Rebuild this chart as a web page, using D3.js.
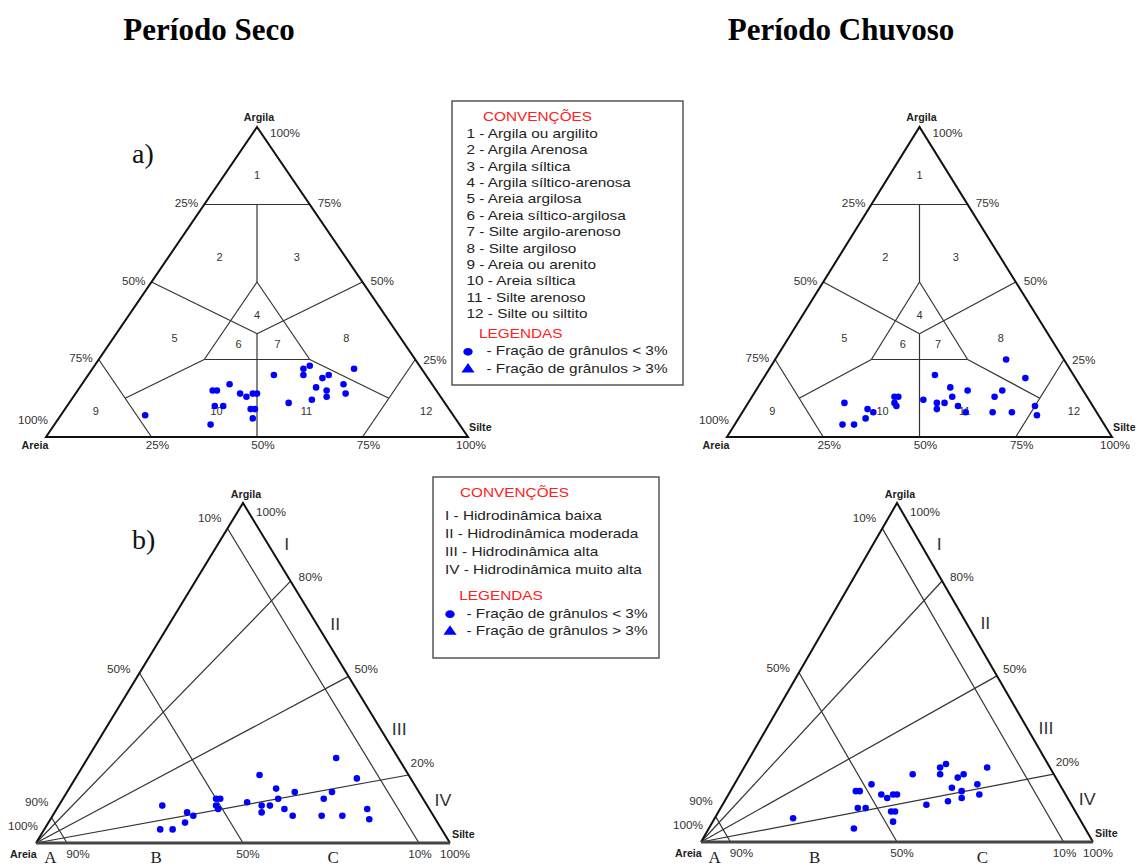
<!DOCTYPE html>
<html>
<head>
<meta charset="utf-8">
<script src="https://cdn.jsdelivr.net/npm/d3@7"></script>
<style>
  body { margin: 0; background: #fff; }
  svg text { font-family: "Liberation Sans", Arial, sans-serif; }
</style>
</head>
<body>
<div id="chart"></div>
<script>
// amostras (argila %, silte %) - areia = resto
const secoArgila = [7, 15, 15, 17, 14, 13, 14, 14, 10, 10, 9, 9, 6, 4, 20, 22, 20, 23, 19, 20, 16, 15, 13, 12, 11, 17, 14, 22];
const secoSilte  = [20, 32, 33, 35, 39, 41, 42, 43, 35, 37, 44, 45, 46, 37, 44, 50, 51, 51, 56, 57, 56, 59, 60, 57, 52, 62, 64, 62];
const chuvosoArgila = [25, 19, 20, 16, 13, 15, 12, 11, 11, 9, 10, 8, 13, 15, 8, 8, 10, 7, 11, 4, 4, 6, 9, 8, 13, 13, 11, 10];
const chuvosoSilte  = [60, 68, 44, 50, 52, 55, 45, 49, 51, 50, 55, 58, 63, 64, 65, 70, 75, 77, 25, 28, 31, 33, 32, 34, 37, 38, 38, 39];

const titulos = ['Período Seco', 'Período Chuvoso'];

const shepardClasses = ['Argila ou argilito', 'Argila Arenosa', 'Argila síltica', 'Argila síltico-arenosa',
  'Areia argilosa', 'Areia síltico-argilosa', 'Silte argilo-arenoso', 'Silte argiloso',
  'Areia ou arenito', 'Areia síltica', 'Silte arenoso', 'Silte ou siltito'];
const pejrupClasses = ['I - Hidrodinâmica baixa', 'II - Hidrodinâmica moderada', 'III - Hidrodinâmica alta', 'IV - Hidrodinâmica muito alta'];
const legendas = ['- Fração de grânulos < 3%', '- Fração de grânulos > 3%'];

const shepardSandTicks = ['25%', '50%', '75%', '100%'];
const shepardClayTicks = ['100%', '75%', '50%', '25%'];
const shepardSiltTicks = ['25%', '50%', '75%', '100%'];

// Pejrup: linhas de areia e razões argila/(argila+silte)
const pejrupSand = [7.5, 50, 92.5];
const pejrupSandLeftTicks = ['10%', '50%', '90%'];
const pejrupSandBaseTicks = ['10%', '50%', '90%'];
const pejrupRatio = [77, 49, 20];
const pejrupRatioTicks = ['80%', '50%', '20%'];
const pejrupRoman = ['I', 'II', 'III', 'IV'];
const pejrupGroups = ['A', 'B', 'C'];

const width = 1137, height = 868;
const serif = '"Liberation Serif", "Times New Roman", serif';

const svg = d3.select('#chart').append('svg')
  .attr('width', width)
  .attr('height', height)
  .style('display', 'block');

svg.append('rect').attr('width', width).attr('height', height).attr('fill', '#fff');

// text helper, the source figure is stretched sideways
const addText = (parent, x, y, txt, o = {}) => parent.append('text')
  .attr('transform', `translate(${x},${y}) scale(${o.sx || 1},1)`)
  .attr('text-anchor', o.anchor || 'start')
  .attr('dominant-baseline', o.baseline || 'middle')
  .style('font-size', (o.size || 10.5) + 'px')
  .style('font-weight', o.bold ? 'bold' : 'normal')
  .style('font-family', o.font || null)
  .attr('fill', o.fill || '#333')
  .text(txt);

const panels = [
  { kind: 'shepard', left: 46, right: 468, base: 437, apex: 127, arg: secoArgila, sil: secoSilte, tag: 'a)' },
  { kind: 'shepard', left: 727, right: 1112, base: 437, apex: 127, arg: chuvosoArgila, sil: chuvosoSilte },
  { kind: 'pejrup', left: 36, right: 450, base: 843, apex: 503, arg: chuvosoArgila, sil: chuvosoSilte, tag: 'b)' },
  { kind: 'pejrup', left: 701, right: 1093, base: 842, apex: 503, arg: secoArgila, sil: secoSilte }
];

const line = d3.line();
const symCircle = d3.symbol().type(d3.symbolCircle).size(34);

// titles
titulos.forEach((t, i) => {
  addText(svg, i === 0 ? 209 : 841, 40, t, {
    anchor: 'middle', baseline: 'auto', size: 31, bold: true, font: serif, fill: '#000'
  });
});

panels.forEach(p => {
  const xScale = d3.scaleLinear().domain([0, 100]).range([p.left, p.right]);
  const yScale = d3.scaleLinear().domain([0, 100]).range([p.base, p.apex]);
  const pt = (clay, silt) => [xScale(silt + clay / 2), yScale(clay)];
  const A = pt(0, 0), S = pt(0, 100), C = pt(100, 0);

  const g = svg.append('g');
  const seg = (a, b, w, col) => g.append('path')
    .attr('d', line([pt(...a), pt(...b)]))
    .attr('fill', 'none')
    .attr('stroke', col || '#333')
    .attr('stroke-width', w || 1.2);

  const tick = (x, y, txt, anchor) => addText(g, x, y, txt, { anchor: anchor || 'middle', sx: 1.12 });
  const corner = (x, y, txt, anchor) => addText(g, x, y, txt, { anchor, bold: true, fill: '#222', sx: 1.02 });

  if (p.kind === 'shepard') {
    seg([75, 0], [75, 25]);
    seg([75, 12.5], [50, 25]);
    seg([50, 25], [25, 25]);
    seg([25, 25], [25, 50]);
    seg([25, 50], [50, 25]);
    seg([50, 0], [100 / 3, 100 / 3]);
    seg([50, 50], [100 / 3, 100 / 3]);
    seg([100 / 3, 100 / 3], [0, 50]);
    seg([25, 25], [12.5, 12.5]);
    seg([25, 50], [12.5, 75]);
    seg([25, 0], [0, 25]);
    seg([25, 75], [0, 75]);

    g.append('path')
      .attr('d', line([A, S, C]) + 'Z')
      .attr('fill', 'none')
      .attr('stroke', '#111')
      .attr('stroke-width', 2);

    // zone numbers
    const zoneAnchors = [[84, 8], [57.5, 12.4], [57.5, 30.7], [39, 30.5], [31.5, 14.7], [29.7, 30.8],
      [29.7, 40], [31.5, 55.4], [7.8, 7.9], [7.8, 36.5], [7.8, 57.8], [7.8, 86.2]];
    zoneAnchors.forEach((z, i) => {
      const q = pt(z[0], z[1]);
      addText(g, q[0], q[1], String(i + 1), { anchor: 'middle', size: 10, sx: 1.1 });
    });

    // ticks
    shepardSandTicks.forEach((t, i) => {
      if (i === 3) { tick(A[0] - 13, A[1] - 16, t); return; }
      const q = pt(75 - 25 * i, 0);
      tick(q[0] - 6, q[1], t, 'end');
    });
    shepardClayTicks.forEach((t, i) => {
      if (i === 0) { tick(C[0] + 28, C[1] + 7, t); return; }
      const q = pt(100 - 25 * i, 25 * i);
      tick(q[0] + 8, q[1] + (i === 3 ? 2 : 0), t, 'start');
    });
    shepardSiltTicks.forEach((t, i) => {
      const q = pt(0, 25 * (i + 1));
      tick(q[0] + (i === 3 ? 3 : 6), q[1] + 9, t);
    });
    corner(C[0] + 2, C[1] - 9, 'Argila', 'middle');
    corner(A[0] - 11, A[1] + 9, 'Areia', 'middle');
    corner(S[0] + 1, S[1] - 9, 'Silte', 'start');
  } else {
    pejrupSand.forEach(v => seg([100 - v, 0], [0, 100 - v]));
    pejrupRatio.forEach(r => seg([0, 0], [r, 100 - r]));

    g.append('path')
      .attr('d', line([S, C, A]))
      .attr('fill', 'none')
      .attr('stroke', '#111')
      .attr('stroke-width', 2);
    g.append('path')
      .attr('d', line([A, S]))
      .attr('fill', 'none')
      .attr('stroke', '#444')
      .attr('stroke-width', 3);

    // left edge ticks (top to bottom)
    const leftOff = [[-6, -9], [-9, -3], [-3, -14]];
    pejrupSandLeftTicks.forEach((t, i) => {
      const q = pt(100 - pejrupSand[i], 0);
      tick(q[0] + leftOff[i][0], q[1] + leftOff[i][1], t, 'end');
    });
    tick(A[0] - 13, A[1] - 16, '100%');
    // right edge ticks
    tick(C[0] + 28, C[1] + 10, '100%');
    const rightOff = [[8, -3], [6, -6], [2, -11]];
    pejrupRatioTicks.forEach((t, i) => {
      const r = pejrupRatio[i];
      const q = pt(r, 100 - r);
      tick(q[0] + rightOff[i][0], q[1] + rightOff[i][1], t, 'start');
    });
    // base ticks (right to left)
    const baseOff = [1, 5, 11];
    pejrupSandBaseTicks.forEach((t, i) => {
      const q = pt(0, 100 - pejrupSand[i]);
      tick(q[0] + baseOff[i], q[1] + 12, t);
    });
    tick(S[0] + 5, S[1] + 12, '100%');

    corner(C[0] + 3, C[1] - 8, 'Argila', 'middle');
    corner(A[0] - 26, A[1] + 12, 'Areia', 'start');
    corner(S[0] + 2, S[1] - 8, 'Silte', 'start');

    const romanAt = [87.6, 64.1, 33.2, 12.1];
    pejrupRoman.forEach((t, i) => {
      const q = pt(romanAt[i], 100 - romanAt[i]);
      addText(g, q[0] + 18, q[1], t, { anchor: 'middle', size: 17, fill: '#333', sx: 1.05 });
    });
    const groupAt = [3.5, 29, 71.8];
    pejrupGroups.forEach((t, i) => {
      const q = pt(0, groupAt[i]);
      addText(g, q[0], 863, t, { anchor: 'middle', baseline: 'auto', size: 17, font: serif, fill: '#222' });
    });
  }

  if (p.tag) {
    addText(g, 132, p.kind === 'shepard' ? 163 : 549, p.tag, {
      baseline: 'auto', size: 28, font: serif, fill: '#111'
    });
  }

  // samples
  g.selectAll('.pt')
    .data(d3.range(p.arg.length))
    .enter().append('path')
      .attr('class', 'pt')
      .attr('transform', i => {
        const q = pt(p.arg[i], p.sil[i]);
        return `translate(${q[0]},${q[1]})`;
      })
      .attr('d', symCircle)
      .attr('fill', '#0000ff');
});

// legends
const drawLegend = (box, title, items, leg) => {
  const g = svg.append('g');
  g.append('rect')
    .attr('x', box.x).attr('y', box.y)
    .attr('width', box.w).attr('height', box.h)
    .attr('fill', '#fff')
    .attr('stroke', '#555')
    .attr('stroke-width', 1.5);
  const o = { size: 13, sx: 1.18, fill: '#222' };
  addText(g, title.x, title.y, 'CONVENÇÕES', { ...o, fill: '#ff2020' });
  items.forEach((d, i) => addText(g, box.itemX, box.itemY + i * box.step, d, o));
  addText(g, leg.x, leg.y, 'LEGENDAS', { ...o, fill: '#ff2020' });
  legendas.forEach((t, i) => {
    const y = leg.y + 17.5 + i * 17.5;
    g.append('path')
      .attr('transform', `translate(${leg.mx},${y}) scale(1.2,1)`)
      .attr('d', d3.symbol().type(i === 0 ? d3.symbolCircle : d3.symbolTriangle).size(i === 0 ? 48 : 52))
      .attr('fill', '#0000ff');
    addText(g, leg.tx, y, t, o);
  });
};

drawLegend(
  { x: 452, y: 101, w: 231, h: 284, itemX: 466.5, itemY: 134.3, step: 16.4 },
  { x: 483, y: 117.7 },
  shepardClasses.map((d, i) => `${i + 1} - ${d}`),
  { x: 479, y: 334.3, mx: 468, tx: 486.5 }
);

drawLegend(
  { x: 433, y: 477, w: 226, h: 181, itemX: 445, itemY: 516.7, step: 17.8 },
  { x: 460, y: 494 },
  pejrupClasses,
  { x: 459.3, y: 596.7, mx: 450, tx: 466.5 }
);
</script>
</body>
</html>
